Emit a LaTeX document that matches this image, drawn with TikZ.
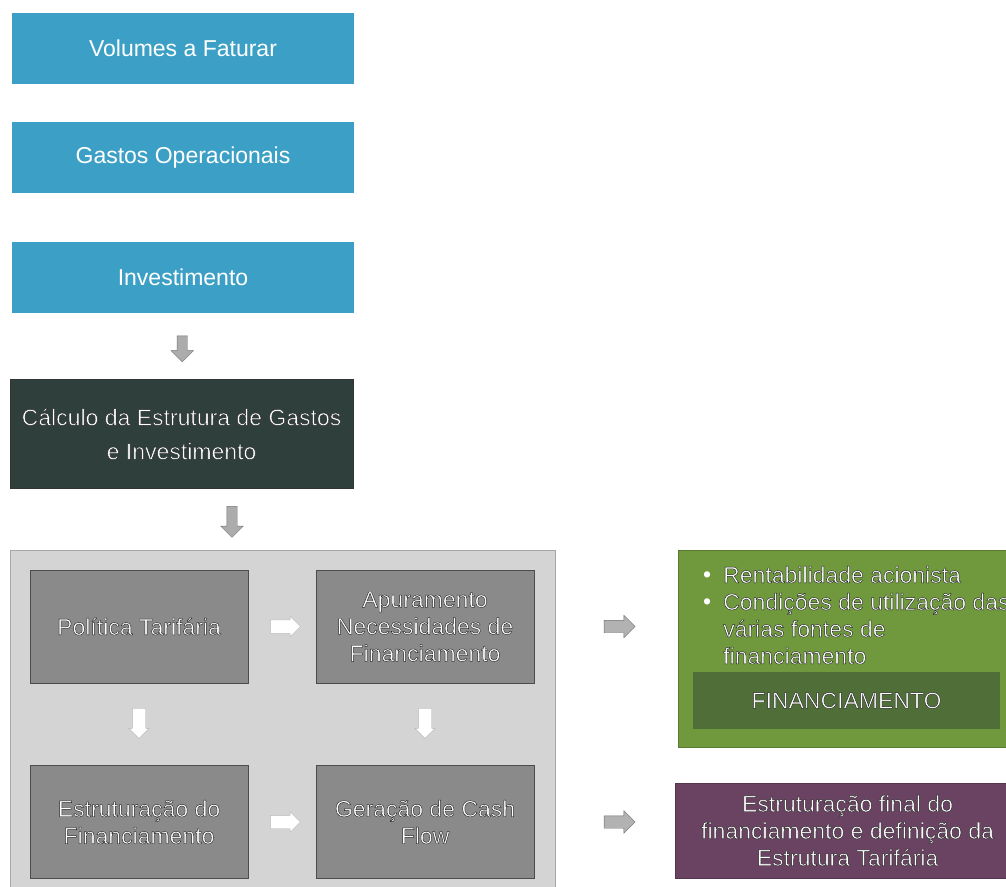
\documentclass[tikz,border=0pt]{standalone}
\usepackage{fontspec}
\setmainfont{Liberation Sans}
\usetikzlibrary{shapes.arrows,calc}

\definecolor{azul}{RGB}{60,160,198}
\definecolor{escuro}{RGB}{47,63,60}
\definecolor{painel}{RGB}{212,212,212}
\definecolor{cinza}{RGB}{138,138,138}
\definecolor{verde}{RGB}{111,153,60}
\definecolor{verdeEsc}{RGB}{80,110,56}
\definecolor{roxo}{RGB}{106,66,98}

% texto branco com contorno escuro
\newcommand{\sh}[1]{\special{pdf:code q 2 Tr 0.45 w 0.15 0.15 0.15 RG}#1\special{pdf:code Q}}

\tikzset{
	blueBox/.style={fill=azul, text=white, minimum width=342pt, minimum height=71pt, inner sep=0pt},
	calcBox/.style={fill=escuro, draw=black!80, text=white, minimum width=343pt, minimum height=109pt,
		inner sep=0pt, align=center, font=\fontsize{23}{34}\selectfont},
	panelBox/.style={fill=painel, draw=gray!70, minimum width=545pt, minimum height=342pt, inner sep=0pt},
	greyBox/.style={fill=cinza, draw=gray!60!black, text=white, minimum width=218pt, minimum height=113pt,
		inner sep=0pt, align=center},
	greenBox/.style={fill=verde, draw=verde!80!black, minimum width=342pt, minimum height=197pt, inner sep=0pt},
	purpleBox/.style={fill=roxo, draw=roxo!80!black, text=white, minimum width=345pt, minimum height=95pt,
		inner sep=0pt, align=center},
	greyDown/.style={single arrow, rotate=-90, fill=gray!65, draw=gray!90!black, inner xsep=0pt, inner ysep=5pt,
		single arrow head extend=6pt, minimum height=#1},
	whiteRight/.style={single arrow, fill=white, draw=gray!55, inner xsep=0pt, inner ysep=6.5pt,
		single arrow head extend=3.5pt, minimum height=30pt},
	whiteDown/.style={whiteRight, rotate=-90},
	greyRight/.style={single arrow, fill=gray!60, draw=gray!85!black, inner xsep=0pt, inner ysep=6pt,
		single arrow head extend=5pt, minimum height=31pt}
}

\begin{document}
\begin{tikzpicture}[x=1pt, y=-1pt, font=\fontsize{23}{27}\selectfont]
	\useasboundingbox (0,0) rectangle (1006,886);

	% coluna da esquerda
	\node[blueBox] (vol) at (183,48) {Volumes a Faturar};
	\node[blueBox] (gas) at (183,157.5) {Gastos Operacionais};
	\node[blueBox] (inv) at (183,277.5) {Investimento};
	\node[calcBox] (calc) at (181.5,434) {\sh{Cálculo da Estrutura de Gastos}\\\sh{e Investimento}};

	\node[greyDown=26pt] (a1) at ($(inv.south)!0.5!(calc.north)$) {};

	% painel cinzento
	\node[panelBox] (pan) at (282.5,721) {};
	\node[greyDown=31pt] (a2) at ($(calc.south)!0.5!(pan.north)$) {};

	\node[greyBox] (pol) at (139,626.5) {\sh{Política Tarifária}};
	\node[greyBox] (apu) at (425,626.5) {\sh{Apuramento}\\\sh{Necessidades de}\\\sh{Financiamento}};
	\node[greyBox] (est) at (139,822) {\sh{Estruturação do}\\\sh{Financiamento}};
	\node[greyBox] (ger) at (425,822) {\sh{Geração de Cash}\\\sh{Flow}};

	\node[whiteRight] (a3) at ($(pol.east)!0.5!(apu.west)$) {};
	\node[whiteRight] (a4) at ($(est.east)!0.5!(ger.west)$) {};
	\node[whiteDown] (a5) at ($(pol.south)!0.45!(est.north)$) {};
	\node[whiteDown] (a6) at ($(apu.south)!0.45!(ger.north)$) {};

	% resultados
	\node[greenBox] (fin) at (849,648.5) {};
	\node[anchor=north west, inner sep=0pt, align=left, text=white] (bul) at (703,566)
		{\makebox[20pt][l]{•}\sh{Rentabilidade acionista}\\
		 \makebox[20pt][l]{•}\sh{Condições de utilização das}\\
		 \hspace*{20pt}\sh{várias fontes de}\\
		 \hspace*{20pt}\sh{financiamento}};
	\node[fill=verdeEsc, text=white, minimum width=307pt, minimum height=57pt, inner sep=0pt]
		(finl) at (846.5,700.5) {\sh{FINANCIAMENTO}};

	\node[purpleBox] (final) at (847.5,830.5)
		{\sh{Estruturação final do}\\\sh{financiamento e definição da}\\\sh{Estrutura Tarifária}};

	\node[greyRight] (a7) at ($(pan.east |- apu)!0.5!(fin.west |- apu)$) {};
	\node[greyRight] (a8) at ($(pan.east |- ger)!0.5!(fin.west |- ger)$) {};
\end{tikzpicture}
\end{document}
